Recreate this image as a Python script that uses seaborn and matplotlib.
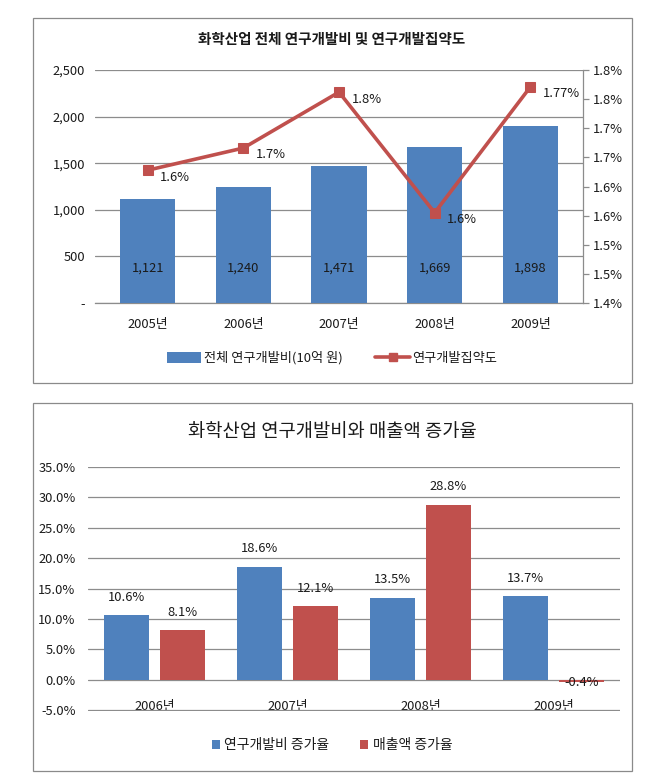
import numpy as np
import pandas as pd
import matplotlib
matplotlib.use("Agg")
import matplotlib.pyplot as plt
from matplotlib.patches import Rectangle, Patch
from matplotlib.lines import Line2D
from matplotlib.ticker import FuncFormatter, MultipleLocator
import seaborn as sns

# ---- data ----
years_top = ["2005년", "2006년", "2007년", "2008년", "2009년"]
rd_spend = [1121, 1240, 1471, 1669, 1898]           # 10억 원
rd_intensity = [1.628, 1.666, 1.762, 1.555, 1.771]    # %
intensity_labels = ["1.6%", "1.7%", "1.8%", "1.6%", "1.77%"]

years_bot = ["2006년", "2007년", "2008년", "2009년"]
rd_growth = [10.6, 18.6, 13.5, 13.7]
sales_growth = [8.1, 12.1, 28.8, -0.4]

title_top = "화학산업 전체 연구개발비 및 연구개발집약도"
title_bot = "화학산업 연구개발비와 매출액 증가율"
leg_top = ["전체 연구개발비(10억 원)", "연구개발집약도"]
leg_bot = ["연구개발비 증가율", "매출액 증가율"]

BLUE = "#4F81BD"
RED = "#C0504D"
GRID = "#8C8C8C"
TXT = "#1a1a1a"
FS = 9.3

sns.set_theme(style="white")
plt.rcParams["font.family"] = ["Noto Sans CJK KR", "DejaVu Sans"]
plt.rcParams["text.color"] = TXT
plt.rcParams["axes.labelcolor"] = TXT
plt.rcParams["xtick.color"] = TXT
plt.rcParams["ytick.color"] = TXT

W, H = 665, 781
fig = plt.figure(figsize=(W / 100, H / 100), dpi=100)

def fx(px):
    return px / W

def fy(py):
    return 1 - py / H

# frames
for (x0, y0, x1, y1) in [(33, 18, 632, 383), (33, 403, 632, 771)]:
    fig.patches.append(Rectangle((fx(x0), fy(y1)), fx(x1) - fx(x0), fy(y0) - fy(y1),
                                 transform=fig.transFigure, fill=False,
                                 edgecolor="#8a8a8a", linewidth=0.9))

# ================= TOP CHART =================
ax1 = fig.add_axes([fx(95), fy(303), fx(583) - fx(95), fy(70) - fy(303)])
df_top = pd.DataFrame({"year": years_top, "spend": rd_spend})
sns.barplot(data=df_top, x="year", y="spend", color=BLUE, saturation=1,
            width=0.58, ax=ax1, zorder=3, linewidth=0, edgecolor="none")
ax1.set_ylim(0, 2500)
ax1.yaxis.set_major_locator(MultipleLocator(500))
ax1.yaxis.set_major_formatter(FuncFormatter(lambda v, p: "-" if abs(v) < 1e-9 else f"{v:,.0f}"))
ax1.grid(axis="y", color=GRID, linewidth=0.9, zorder=0)
ax1.set_axisbelow(True)
ax1.set_xlabel("")
ax1.set_ylabel("")
for s in ["top", "left", "right"]:
    ax1.spines[s].set_visible(False)
ax1.spines["bottom"].set_color(GRID)
ax1.spines["bottom"].set_linewidth(0.9)
ax1.tick_params(axis="y", length=0, pad=7, labelsize=FS)
ax1.tick_params(axis="x", length=0, pad=11, labelsize=FS)
ax1.set_xlim(-0.55, len(years_top) - 0.45)

for i, v in enumerate(rd_spend):
    ax1.text(i, 375, f"{v:,}", ha="center", va="center", fontsize=FS, color=TXT, zorder=5)

ax2 = ax1.twinx()
xpos = np.arange(len(years_top))
sns.lineplot(x=xpos, y=rd_intensity, ax=ax2, color=RED, linewidth=2.6,
             marker="s", markersize=7.5, markeredgecolor=RED, zorder=4)
ax2.set_ylim(1.4, 1.8)
ax2.set_yticks(np.arange(1.40, 1.8001, 0.05))
ax2.yaxis.set_major_formatter(FuncFormatter(lambda v, p: f"{np.floor(v * 10 + 0.5 + 1e-6) / 10:.1f}%"))
ax2.tick_params(axis="y", length=4, width=0.9, color=GRID, pad=3, labelsize=FS, right=True)
for s in ["top", "left", "bottom"]:
    ax2.spines[s].set_visible(False)
ax2.spines["right"].set_color(GRID)
ax2.spines["right"].set_linewidth(0.9)
ax2.set_ylabel("")
ax2.grid(False)
for i, (v, lab) in enumerate(zip(rd_intensity, intensity_labels)):
    ax2.annotate(lab, (i, v), xytext=(9, -5), textcoords="offset points",
                 ha="left", va="center", fontsize=FS, color=TXT)

fig.text(fx(332), fy(39), title_top, ha="center", va="center", fontsize=10.5, fontweight="bold")
handles_top = [Patch(facecolor=BLUE, edgecolor="none"),
               Line2D([0], [0], color=RED, linewidth=2.6, marker="s", markersize=6)]
fig.legend(handles_top, leg_top, loc="center", bbox_to_anchor=(fx(332), fy(358)),
           ncol=2, frameon=False, fontsize=9.5, handlelength=2.6, handleheight=0.9,
           columnspacing=2.5, handletextpad=0.2)

# ================= BOTTOM CHART =================
ax3 = fig.add_axes([fx(88), fy(711), fx(620) - fx(88), fy(467) - fy(711)])
df_bot = pd.DataFrame({
    "year": years_bot * 2,
    "value": rd_growth + sales_growth,
    "series": [leg_bot[0]] * len(years_bot) + [leg_bot[1]] * len(years_bot),
})
sns.barplot(data=df_bot, x="year", y="value", hue="series", palette=[BLUE, RED],
            saturation=1, width=0.84, gap=0.2, ax=ax3, legend=False, zorder=3,
            linewidth=0, edgecolor="none")
ax3.set_ylim(-5.15, 35)
ax3.yaxis.set_major_locator(MultipleLocator(5))
ax3.yaxis.set_major_formatter(FuncFormatter(lambda v, p: f"{v:.1f}%"))
ax3.grid(axis="y", color=GRID, linewidth=0.9, zorder=0)
ax3.set_axisbelow(True)
ax3.set_xlabel("")
ax3.set_ylabel("")
for s in ["top", "left", "right", "bottom"]:
    ax3.spines[s].set_visible(False)
ax3.tick_params(axis="y", length=0, pad=9, labelsize=FS)
ax3.tick_params(axis="x", length=0, pad=-8, labelsize=FS)
for lbl in ax3.get_xticklabels():
    lbl.set_zorder(5)
ax3.set_xlim(-0.5, len(years_bot) - 0.5)

for cont in ax3.containers:
    for bar in cont:
        h = bar.get_height()
        xc = bar.get_x() + bar.get_width() / 2
        if h >= 0:
            ax3.annotate(f"{h:.1f}%", (xc, h), xytext=(0, 13), textcoords="offset points",
                         ha="center", va="center", fontsize=FS, color=TXT)
        else:
            ax3.annotate(f"{h:.1f}%", (xc, 0), xytext=(0, -2), textcoords="offset points",
                         ha="center", va="center", fontsize=FS, color=TXT)

fig.text(fx(332), fy(432), title_bot, ha="center", va="center", fontsize=13.5)
handles_bot = [Patch(facecolor=BLUE, edgecolor="none"), Patch(facecolor=RED, edgecolor="none")]
fig.legend(handles_bot, leg_bot, loc="center", bbox_to_anchor=(fx(332), fy(745)),
           ncol=2, frameon=False, fontsize=10, handlelength=0.6, handleheight=0.6,
           columnspacing=2.2, handletextpad=0.3)

fig.savefig("out.png", dpi=100)
